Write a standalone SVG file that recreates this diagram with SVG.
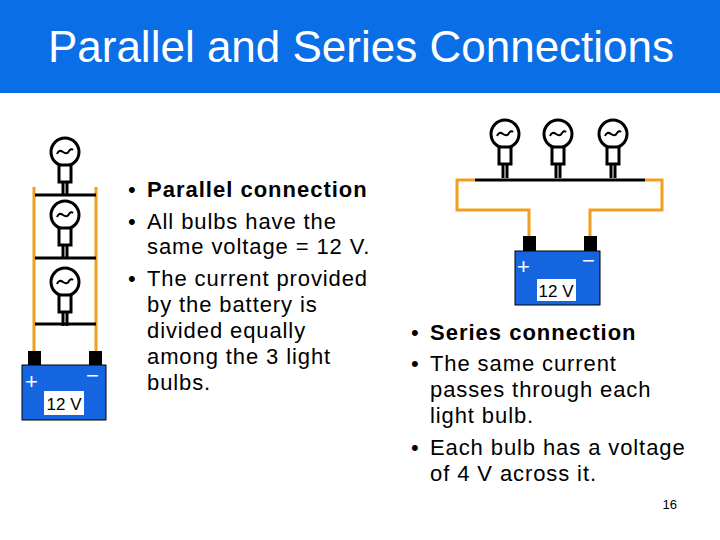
<svg xmlns="http://www.w3.org/2000/svg" width="720" height="540" viewBox="0 0 720 540">
<defs>
<style>
text{font-family:"Liberation Sans",Arial,sans-serif}
.b{font-size:22px;fill:#000;letter-spacing:0.9px}
.bb{font-size:22px;fill:#000;font-weight:bold;letter-spacing:1px}
.or{fill:none;stroke:#f0a020;stroke-width:3}
.bk{fill:none;stroke:#000;stroke-width:3}
.glass{fill:#fff;stroke:#000;stroke-width:3}
.fil{fill:none;stroke:#000;stroke-width:2}
.term{fill:#000}
.bat{fill:#1565e0;stroke:#000;stroke-width:1}
</style>
<g id="bulb">
<circle cx="0" cy="0" r="14" class="glass"/>
<path d="M-8 2 Q-6 -3 -2 0 Q2 3 4 -1 Q6 -4 8 -2" class="fil"/>
<rect x="-6" y="13" width="12" height="17" class="glass"/>
<path d="M-2 30 V44 M2 30 V44" class="bk" stroke-width="2"/>
</g>
</defs>
<rect width="720" height="540" fill="#fff"/>
<rect id="header" x="0" y="0" width="720" height="93" fill="#0a6ee6"/>
<text x="361" y="62" text-anchor="middle" font-size="44" fill="#fff">Parallel and Series Connections</text>

<g id="connectors">
<path d="M34 187 V352 M96 187 V352" class="or"/>
<path d="M35 195 H96 M35 258 H96 M35 324 H96" class="bk"/>
<path d="M475 180 H645" class="bk"/>
<path d="M475 180 H457 V210 H529 V237 M645 180 H662 V210 H590 V237" class="or"/>
</g>

<g id="parallel-bulb1"><use href="#bulb" x="65" y="152"/></g>
<g id="parallel-bulb2"><use href="#bulb" x="65" y="215"/></g>
<g id="parallel-bulb3"><use href="#bulb" x="65" y="282"/></g>
<g id="parallel-battery">
<rect x="28" y="351" width="13" height="14" class="term"/>
<rect x="89" y="351" width="13" height="14" class="term"/>
<rect x="22" y="365" width="84" height="55" class="bat"/>
<text x="25" y="389" font-size="22" fill="#fff">+</text>
<text x="86" y="383" font-size="22" fill="#fff">−</text>
<rect x="44" y="391" width="40" height="24" fill="#fff"/>
<text x="64" y="410" text-anchor="middle" font-size="17">12 V</text>
</g>

<g id="series-bulb1"><use href="#bulb" x="505" y="134"/></g>
<g id="series-bulb2"><use href="#bulb" x="558" y="134"/></g>
<g id="series-bulb3"><use href="#bulb" x="613" y="134"/></g>
<g id="series-battery">
<rect x="523" y="236" width="13" height="15" class="term"/>
<rect x="584" y="236" width="13" height="15" class="term"/>
<rect x="515" y="251" width="85" height="54" class="bat"/>
<text x="517" y="274" font-size="22" fill="#fff">+</text>
<text x="582" y="268" font-size="22" fill="#fff">−</text>
<rect x="537" y="279" width="39" height="22" fill="#fff"/>
<text x="556" y="297" text-anchor="middle" font-size="17">12 V</text>
</g>

<g id="text-parallel">
<text x="128" y="197" class="b">•</text><text x="147" y="197" class="bb">Parallel connection</text>
<text x="128" y="229" class="b">•</text><text x="147" y="229" class="b">All bulbs have the</text>
<text x="147" y="254" class="b">same voltage = 12 V.</text>
<text x="128" y="286" class="b">•</text><text x="147" y="286" class="b">The current provided</text>
<text x="147" y="312" class="b">by the battery is</text>
<text x="147" y="338" class="b">divided equally</text>
<text x="147" y="364" class="b">among the 3 light</text>
<text x="147" y="390" class="b">bulbs.</text>
</g>
<g id="text-series">
<text x="411" y="340" class="b">•</text><text x="430" y="340" class="bb">Series connection</text>
<text x="411" y="371" class="b">•</text><text x="430" y="371" class="b">The same current</text>
<text x="430" y="397" class="b">passes through each</text>
<text x="430" y="423" class="b">light bulb.</text>
<text x="411" y="455" class="b">•</text><text x="430" y="455" class="b">Each bulb has a voltage</text>
<text x="430" y="481" class="b">of 4 V across it.</text>
</g>
<text x="677" y="509" text-anchor="end" font-size="13">16</text>
</svg>
